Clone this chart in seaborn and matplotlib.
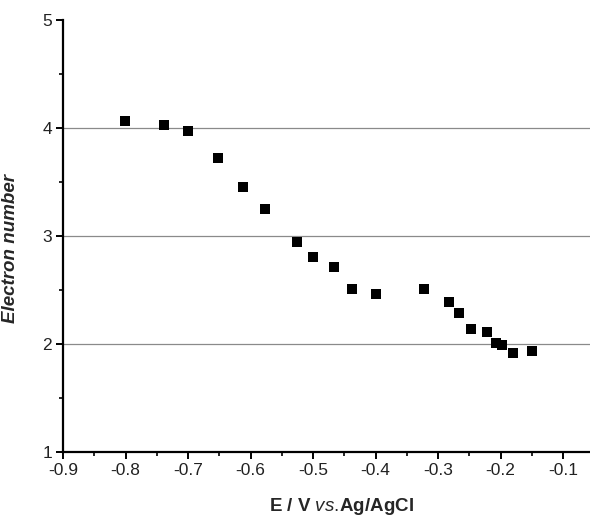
import numpy as np
import pandas as pd
import seaborn as sns
import matplotlib.pyplot as plt
from matplotlib.ticker import MultipleLocator, FormatStrFormatter

# data
potential = [-0.801, -0.738, -0.700, -0.652, -0.612, -0.577, -0.526, -0.500,
             -0.466, -0.437, -0.400, -0.322, -0.282, -0.266, -0.247, -0.222,
             -0.208, -0.198, -0.180, -0.149]
electrons = [4.065, 4.028, 3.972, 3.722, 3.454, 3.250, 2.944, 2.803,
             2.716, 2.512, 2.466, 2.512, 2.386, 2.287, 2.142, 2.114,
             2.006, 1.988, 1.920, 1.935]
grid_levels = [2, 3, 4]

df = pd.DataFrame({'E': potential, 'n': electrons})

sns.set_style('ticks')
plt.rcParams['font.family'] = ['Liberation Sans', 'DejaVu Sans']
plt.rcParams['axes.unicode_minus'] = False
plt.rcParams['mathtext.fontset'] = 'custom'
plt.rcParams['mathtext.rm'] = 'Liberation Sans'
plt.rcParams['mathtext.it'] = 'Liberation Sans:italic'
plt.rcParams['mathtext.bf'] = 'Liberation Sans:bold'

fig = plt.figure(figsize=(5.9, 5.18), dpi=100)
ax = fig.add_axes([63 / 590, 1 - 452 / 518, 527 / 590, 432 / 518])

for lv in grid_levels:
    ax.axhline(lv, color='#8a8a8a', lw=0.9, zorder=0)

sns.scatterplot(data=df, x='E', y='n', marker='s', s=50, color='black',
                edgecolor='black', linewidth=0, ax=ax, zorder=3)

ax.set_xlim(-0.9, -0.057)
ax.set_ylim(1, 5)
ax.xaxis.set_major_locator(MultipleLocator(0.1))
ax.xaxis.set_minor_locator(MultipleLocator(0.05))
ax.xaxis.set_major_formatter(FormatStrFormatter('%.1f'))
ax.yaxis.set_major_locator(MultipleLocator(1))
ax.yaxis.set_minor_locator(MultipleLocator(0.5))

sns.despine(ax=ax)
for side in ['left', 'bottom']:
    ax.spines[side].set_linewidth(1.6)
    ax.spines[side].set_color('black')

ax.tick_params(which='major', direction='out', length=5, width=1.4,
               labelsize=12.5, colors='black', labelcolor='#222222', pad=3)
ax.tick_params(which='minor', direction='out', length=3, width=1.2, colors='black')

ax.set_xlabel(r'$\mathbf{E\ /\ V}\ \mathit{vs.}\!\mathbf{Ag/AgCl}$', fontsize=13.5)
ax.xaxis.set_label_coords(0.528, -0.102)
ax.set_ylabel('Electron number', fontsize=13.5, fontweight='bold', fontstyle='italic')
ax.yaxis.set_label_coords(-0.083, 0.47)

fig.savefig('out.png', dpi=100)
